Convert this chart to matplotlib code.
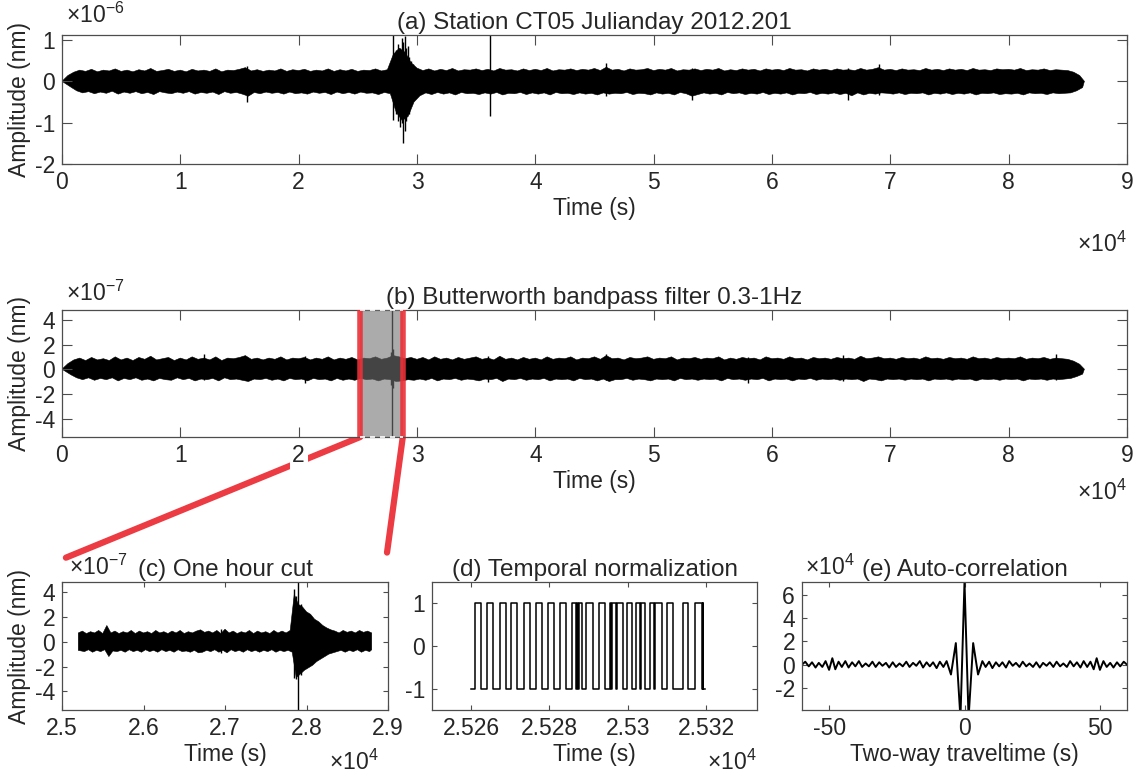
import numpy as np
import matplotlib
matplotlib.use('Agg')
from matplotlib import pyplot as plt
from matplotlib.patches import ConnectionPatch
from matplotlib.ticker import FuncFormatter

plt.rcParams['font.family'] = ['Liberation Sans', 'DejaVu Sans']
plt.rcParams['mathtext.fontset'] = 'custom'
plt.rcParams['mathtext.rm'] = 'Liberation Sans'
plt.rcParams['axes.unicode_minus'] = False

# ---- (a) raw day record, envelope every 500 s, x1e-6 nm
# upper edge sampled on day_t, lower edge on day_t_lo (staggered by 250 s)
day_t = np.append(np.arange(0, 86001, 500), 86400)
day_t_lo = np.concatenate([[0], np.arange(750, 86251, 500), [86400]])
day_up = [0.0, 0.14, 0.22, 0.27, 0.24, 0.29, 0.23, 0.27, 0.25, 0.30,
          0.24, 0.27, 0.23, 0.28, 0.25, 0.31, 0.24, 0.26, 0.29, 0.24,
          0.27, 0.23, 0.29, 0.25, 0.27, 0.24, 0.30, 0.23, 0.27, 0.26,
          0.29, 0.33, 0.25, 0.28, 0.24, 0.27, 0.25, 0.30, 0.24, 0.28,
          0.26, 0.29, 0.24, 0.27, 0.25, 0.30, 0.24, 0.28, 0.25, 0.29,
          0.24, 0.27, 0.26, 0.30, 0.25, 0.28, 0.65, 0.80, 0.70, 0.45,
          0.32, 0.26, 0.30, 0.25, 0.29, 0.26, 0.31, 0.25, 0.28, 0.27,
          0.30, 0.26, 0.29, 0.25, 0.31, 0.27, 0.28, 0.25, 0.30, 0.26,
          0.29, 0.26, 0.31, 0.25, 0.28, 0.27, 0.30, 0.26, 0.29, 0.27,
          0.31, 0.26, 0.34, 0.27, 0.29, 0.25, 0.30, 0.27, 0.28, 0.31,
          0.26, 0.29, 0.27, 0.31, 0.25, 0.28, 0.27, 0.30, 0.26, 0.29,
          0.27, 0.31, 0.25, 0.28, 0.26, 0.30, 0.27, 0.29, 0.25, 0.30,
          0.27, 0.29, 0.26, 0.31, 0.27, 0.28, 0.25, 0.30, 0.27, 0.29,
          0.26, 0.30, 0.27, 0.28, 0.26, 0.31, 0.27, 0.29, 0.33, 0.27,
          0.29, 0.26, 0.30, 0.27, 0.28, 0.26, 0.31, 0.27, 0.29, 0.26,
          0.30, 0.27, 0.29, 0.26, 0.31, 0.27, 0.28, 0.26, 0.30, 0.28,
          0.29, 0.27, 0.31, 0.26, 0.28, 0.27, 0.30, 0.26, 0.28, 0.27,
          0.26, 0.22, 0.14, 0.0]
day_lo = [0.0, -0.14, -0.23, -0.28, -0.25, -0.30, -0.26, -0.29, -0.24, -0.31,
          -0.26, -0.29, -0.25, -0.30, -0.27, -0.32, -0.25, -0.28, -0.30, -0.26,
          -0.29, -0.25, -0.31, -0.27, -0.29, -0.26, -0.32, -0.25, -0.29, -0.27,
          -0.31, -0.36, -0.27, -0.30, -0.26, -0.29, -0.27, -0.31, -0.26, -0.30,
          -0.28, -0.31, -0.26, -0.29, -0.27, -0.32, -0.26, -0.30, -0.27, -0.31,
          -0.26, -0.29, -0.28, -0.32, -0.27, -0.30, -0.75, -0.95, -0.85, -0.50,
          -0.35, -0.28, -0.32, -0.27, -0.31, -0.28, -0.33, -0.27, -0.30, -0.29,
          -0.32, -0.28, -0.31, -0.27, -0.33, -0.29, -0.30, -0.27, -0.32, -0.28,
          -0.31, -0.28, -0.33, -0.27, -0.30, -0.29, -0.32, -0.28, -0.31, -0.29,
          -0.33, -0.28, -0.31, -0.29, -0.30, -0.27, -0.32, -0.29, -0.30, -0.33,
          -0.28, -0.31, -0.29, -0.33, -0.27, -0.30, -0.36, -0.32, -0.28, -0.31,
          -0.29, -0.33, -0.27, -0.30, -0.28, -0.32, -0.29, -0.31, -0.27, -0.32,
          -0.29, -0.31, -0.28, -0.33, -0.29, -0.30, -0.27, -0.32, -0.29, -0.31,
          -0.28, -0.32, -0.29, -0.35, -0.28, -0.33, -0.29, -0.31, -0.28, -0.29,
          -0.31, -0.28, -0.32, -0.29, -0.30, -0.28, -0.33, -0.29, -0.31, -0.28,
          -0.32, -0.29, -0.31, -0.28, -0.33, -0.29, -0.30, -0.28, -0.32, -0.30,
          -0.31, -0.29, -0.33, -0.28, -0.30, -0.29, -0.32, -0.28, -0.30, -0.29,
          -0.28, -0.23, -0.15, 0.0]
day_spk_t = [15600, 27950, 28100, 28250, 28400, 28550, 28700, 28850, 28950,
             29050, 29200, 29350, 29500, 29700, 36200, 46000, 53200, 66400, 69000]
day_spk_hi = [0.36, 1.2, 0.6, 0.75, 0.9, 0.8, 1.05, 0.95, 1.1,
              0.8, 0.85, 0.6, 0.5, 0.42, 1.2, 0.45, 0.33, 0.33, 0.42]
day_spk_lo = [-0.5, -0.93, -0.65, -0.8, -0.95, -1.1, -1.0, -1.5, -1.2,
              -0.95, -0.75, -0.8, -0.55, -0.48, -0.85, -0.36, -0.46, -0.45, -0.32]

# ---- (b) bandpassed record on the same time grids, x1e-7 nm
bp_up = [0.0, 0.45, 0.75, 0.9, 0.7, 0.95, 0.75, 0.85, 0.7, 1.0,
         0.75, 0.9, 0.7, 0.95, 0.8, 1.05, 0.75, 0.85, 0.95, 0.7,
         0.9, 0.75, 1.0, 0.8, 0.9, 0.75, 1.0, 0.7, 0.9, 0.85,
         0.95, 1.1, 0.8, 0.9, 0.75, 0.9, 0.8, 1.0, 0.75, 0.9,
         0.85, 0.95, 0.75, 0.9, 0.8, 1.0, 0.75, 0.9, 0.8, 0.95,
         0.75, 0.9, 0.85, 1.0, 0.8, 0.9, 1.1, 1.0, 0.85, 0.95,
         0.8, 0.95, 0.75, 1.0, 0.8, 0.9, 0.75, 0.95, 0.8, 0.9,
         1.0, 0.8, 0.9, 0.75, 1.05, 0.8, 0.9, 0.75, 0.95, 0.8,
         0.9, 0.75, 1.0, 0.8, 0.9, 0.85, 1.0, 0.75, 0.9, 0.85,
         1.0, 0.8, 1.1, 0.85, 0.9, 0.75, 0.95, 0.85, 0.9, 1.0,
         0.8, 0.9, 0.85, 1.0, 0.75, 0.9, 0.85, 0.95, 0.8, 0.9,
         0.85, 1.0, 0.75, 0.9, 0.8, 0.95, 0.85, 0.9, 0.75, 1.0,
         0.85, 0.9, 0.8, 1.0, 0.85, 0.9, 0.75, 0.95, 0.85, 0.9,
         0.8, 0.95, 0.85, 0.9, 0.8, 1.05, 0.85, 0.9, 1.0, 0.85,
         0.9, 0.8, 0.95, 0.85, 0.9, 0.8, 1.0, 0.85, 0.9, 0.8,
         0.95, 0.85, 0.9, 0.8, 1.0, 0.85, 0.9, 0.8, 0.95, 0.85,
         0.9, 0.85, 1.0, 0.8, 0.9, 0.85, 0.95, 0.8, 0.9, 0.85,
         0.8, 0.65, 0.4, 0.0]
bp_lo = [0.0, -0.45, -0.7, -0.85, -0.7, -0.9, -0.75, -0.85, -0.7, -0.95,
         -0.75, -0.85, -0.7, -0.9, -0.8, -0.95, -0.75, -0.85, -0.9, -0.7,
         -0.85, -0.75, -0.95, -0.8, -0.85, -0.75, -0.95, -0.7, -0.85, -0.8,
         -0.9, -1.0, -0.8, -0.85, -0.75, -0.9, -0.8, -0.95, -0.75, -0.85,
         -0.8, -0.95, -0.75, -0.85, -0.8, -0.95, -0.75, -0.9, -0.8, -0.9,
         -0.75, -0.85, -0.8, -0.95, -0.8, -0.85, -1.0, -0.95, -0.85, -0.9,
         -0.8, -0.9, -0.75, -0.95, -0.8, -0.85, -0.75, -0.9, -0.8, -0.85,
         -0.95, -0.8, -0.85, -0.75, -1.0, -0.8, -0.85, -0.75, -0.9, -0.8,
         -0.85, -0.75, -0.95, -0.8, -0.85, -0.8, -0.95, -0.75, -0.85, -0.8,
         -0.95, -0.8, -1.0, -0.85, -0.85, -0.75, -0.9, -0.8, -0.85, -0.95,
         -0.8, -0.85, -0.8, -0.95, -0.75, -0.85, -0.8, -0.9, -0.8, -0.85,
         -0.8, -0.95, -0.75, -0.85, -0.8, -0.9, -0.8, -0.85, -0.75, -0.95,
         -0.8, -0.85, -0.8, -0.95, -0.8, -0.85, -0.75, -0.9, -0.8, -0.85,
         -0.8, -0.9, -0.8, -0.85, -0.8, -1.0, -0.8, -0.85, -0.95, -0.8,
         -0.85, -0.8, -0.9, -0.8, -0.85, -0.8, -0.95, -0.8, -0.85, -0.8,
         -0.9, -0.8, -0.85, -0.8, -0.95, -0.8, -0.85, -0.8, -0.9, -0.8,
         -0.85, -0.8, -0.95, -0.8, -0.85, -0.8, -0.9, -0.8, -0.85, -0.8,
         -0.75, -0.6, -0.4, 0.0]
bp_spk_t = [12000, 20500, 27800, 27900, 28000, 36000, 46000, 58000, 66000, 84000]
bp_spk_hi = [1.2, 1.1, 1.4, 5.5, 1.6, 1.1, 1.2, 1.0, 1.15, 1.2]
bp_spk_lo = [-0.9, -1.1, -1.3, -6.5, -1.5, -1.0, -0.9, -1.1, -0.95, -0.9]

# ---- (c) one hour window 25200-28800 s, envelope every 50 s, x1e-7 nm
cut_t = np.arange(25200, 28801, 50)
cut_t_lo = np.concatenate([[25200], np.arange(25275, 28776, 50), [28800]])
cut_up = [0.7, 0.85, 0.65, 0.8, 0.7, 0.9, 0.65, 1.3, 0.7, 0.85,
          0.65, 0.8, 0.7, 0.9, 0.65, 0.85, 0.7, 0.8, 0.65, 0.9,
          0.7, 0.8, 0.65, 0.85, 0.7, 0.9, 0.65, 0.8, 0.7, 0.85,
          0.95, 0.75, 0.85, 0.7, 0.9, 0.65, 1.0, 0.7, 0.85, 0.65,
          0.8, 0.7, 0.9, 0.65, 0.85, 0.7, 0.8, 0.65, 0.9, 0.7,
          0.85, 0.7, 0.9, 3.8, 3.0, 2.8, 2.4, 2.2, 1.8, 1.6,
          1.3, 1.1, 0.95, 0.85, 0.7, 0.9, 0.75, 0.85, 0.7, 0.9,
          0.75, 0.85, 0.7]
cut_lo = [-0.7, -0.8, -0.65, -0.85, -0.7, -0.8, -0.65, -1.2, -0.75, -0.8,
          -0.7, -0.85, -0.65, -0.8, -0.7, -0.85, -0.65, -0.8, -0.7, -0.85,
          -0.65, -0.8, -0.7, -0.85, -0.65, -0.8, -0.75, -0.85, -0.7, -0.9,
          -0.85, -0.7, -0.8, -0.65, -0.85, -0.7, -0.9, -0.65, -0.8, -0.7,
          -0.85, -0.65, -0.8, -0.7, -0.85, -0.7, -0.8, -0.65, -0.85, -0.7,
          -0.8, -0.7, -0.85, -2.9, -2.6, -2.3, -2.1, -1.9, -1.6, -1.4,
          -1.2, -1.0, -0.9, -0.8, -0.7, -0.85, -0.7, -0.8, -0.65, -0.85,
          -0.7, -0.8, -0.65]
cut_spk_t = [26950, 27845, 27870, 27900, 27930]
cut_spk_hi = [1.05, 4.25, 3.7, 5.5, 3.0]
cut_spk_lo = [-0.95, -2.9, -3.0, -6.5, -2.7]

# ---- (d) one-bit normalised trace: start/end and the +1 pulses
norm_start, norm_end = 25260.0, 25319.8
pulse_on = [25261.0, 25264.1, 25267.3, 25270.2, 25273.5, 25276.5, 25279.6,
            25282.6, 25285.8, 25287.1, 25287.6, 25289.4, 25292.7, 25295.4,
            25296.0, 25297.3, 25299.7, 25302.2, 25303.3, 25305.6, 25306.9,
            25310.0, 25314.2, 25317.2, 25319.1]
pulse_off = [25262.6, 25265.7, 25268.8, 25271.8, 25275.1, 25278.2, 25281.1,
             25284.2, 25286.9, 25287.4, 25288.2, 25291.2, 25294.1, 25295.8,
             25297.0, 25298.7, 25301.0, 25303.1, 25304.3, 25306.7, 25308.8,
             25311.6, 25315.5, 25318.9, 25319.3]

# ---- (e) auto-correlation (x1e4), extrema for positive lags (symmetric)
ac_lag = [0, 1.5, 3.2, 5.0, 6.6, 7.8, 9.1, 10.3, 11.6, 12.8, 14.0, 15.3,
          16.5, 17.8, 19.0, 20.3, 21.5, 22.8, 24.0, 25.3, 26.5, 27.8, 29.0,
          30.3, 31.5, 32.8, 34.0, 35.3, 36.5, 37.8, 39.0, 40.3, 41.5, 42.8,
          44.0, 45.3, 46.5, 47.7, 48.8, 50.0, 51.3, 52.5, 53.8, 55.0, 56.3,
          57.5, 58.8, 60.0]
ac_val = [7.1, -4.6, 1.85, -0.85, 0.3, -0.2, 0.25, -0.3, 0.2, -0.15, 0.2, -0.25,
          0.3, -0.1, 0.15, -0.2, 0.25, -0.15, 0.1, -0.2, 0.2, -0.25, 0.15,
          -0.1, 0.2, -0.2, 0.25, -0.15, 0.1, -0.2, 0.3, -0.15, 0.2, -0.25,
          0.3, -0.2, 0.25, -0.4, 0.55, -0.45, 0.3, -0.2, 0.15, -0.25, 0.2,
          -0.15, 0.25, 0.0]

W, H = 1135, 775
fig = plt.figure(figsize=(W / 100, H / 100), dpi=100)

def rect(l, t, r, b):
    return [l / W, 1 - b / H, (r - l) / W, (b - t) / H]

ax_a = fig.add_axes(rect(62, 35, 1127, 164))
ax_b = fig.add_axes(rect(62, 310, 1127, 437))
ax_c = fig.add_axes(rect(62, 582, 388, 710))
ax_d = fig.add_axes(rect(432, 582, 757, 710))
ax_e = fig.add_axes(rect(802, 582, 1127, 710))

txt = '0.15'
red = (0.92, 0.19, 0.22)
FS = 16.5
e4 = FuncFormatter(lambda v, p: f'{v / 1e4:g}')

def style(ax, ticklen):
    ax.tick_params(direction='in', top=True, right=True, length=ticklen, width=0.8,
                   color='0.3', labelsize=FS, labelcolor=txt, pad=5)
    for s in ax.spines.values():
        s.set_color('0.3')
        s.set_linewidth(0.9)

def labels(ax, title, xlab, ylab=None):
    ax.set_title(title, fontsize=17.5, color=txt, pad=4)
    ax.set_xlabel(xlab, fontsize=FS, color=txt, labelpad=2)
    if ylab:
        ax.set_ylabel(ylab, fontsize=FS, color=txt, labelpad=3)

def exp_label(ax, x, y, s, ha='left', va='center'):
    ax.text(x, y, s, transform=ax.transAxes, ha=ha, va=va, fontsize=FS, color=txt)

def trace(ax, t_up, up, t_lo, lo, spk_t, spk_hi, spk_lo):
    # waveform drawn as its amplitude envelope plus the single large swings
    ax.fill(np.r_[t_up, t_lo[::-1]], np.r_[up, lo[::-1]], color='k', lw=0.4)
    ax.vlines(spk_t, spk_lo, spk_hi, color='k', lw=1)

# (a)
trace(ax_a, day_t, day_up, day_t_lo, day_lo, day_spk_t, day_spk_hi, day_spk_lo)
ax_a.set_xlim(0, 90000)
ax_a.set_ylim(-2, 1.12)
ax_a.set_xticks(np.arange(0, 90001, 10000))
ax_a.set_yticks([-2, -1, 0, 1])
ax_a.xaxis.set_major_formatter(e4)
style(ax_a, 7.5)
labels(ax_a, '(a) Station CT05 Julianday 2012.201', 'Time (s)', 'Amplitude (nm)')
exp_label(ax_a, 0.004, 1.155, r'$\times10^{-6}$')
exp_label(ax_a, 1.0, -0.62, r'$\times10^{4}$', ha='right')

# (b)
trace(ax_b, day_t, bp_up, day_t_lo, bp_lo, bp_spk_t, bp_spk_hi, bp_spk_lo)
ax_b.set_xlim(0, 90000)
ax_b.set_ylim(-5.5, 4.8)
ax_b.set_xticks(np.arange(0, 90001, 10000))
ax_b.set_yticks([-4, -2, 0, 2, 4])
ax_b.xaxis.set_major_formatter(e4)
style(ax_b, 7.5)
ax_b.axvspan(cut_t[0], cut_t[-1], color='0.45', alpha=0.6, lw=0, zorder=3)
for xv in (cut_t[0], cut_t[-1]):
    ax_b.axvline(xv, color=red, lw=4, alpha=0.9, zorder=4)
ax_b.hlines([4.8, -5.5], cut_t[0], cut_t[-1], colors='white', lw=1.2,
            linestyles=(0, (3, 3)), zorder=5, clip_on=False)
labels(ax_b, '(b) Butterworth bandpass filter 0.3-1Hz', 'Time (s)', 'Amplitude (nm)')
exp_label(ax_b, 0.004, 1.134, r'$\times10^{-7}$')
exp_label(ax_b, 1.0, -0.433, r'$\times10^{4}$', ha='right')
ax_b.xaxis.get_major_ticks()[2].label1.set_bbox(dict(fc='white', ec='none', pad=2))

# (c)
trace(ax_c, cut_t, cut_up, cut_t_lo, cut_lo, cut_spk_t, cut_spk_hi, cut_spk_lo)
ax_c.set_xlim(25000, 29000)
ax_c.set_ylim(-5.5, 4.8)
ax_c.set_xticks(np.arange(25000, 29001, 1000))
ax_c.set_yticks([-4, -2, 0, 2, 4])
ax_c.xaxis.set_major_formatter(e4)
style(ax_c, 3.5)
labels(ax_c, '(c) One hour cut', 'Time (s)', 'Amplitude (nm)')
exp_label(ax_c, 0.02, 1.117, r'$\times10^{-7}$')
exp_label(ax_c, 0.97, -0.47, r'$\times10^{4}$', ha='right', va='baseline')

# (d)
sx, sy = [norm_start], [-1]
for on, off in zip(pulse_on, pulse_off):
    sx += [on, on, off, off]
    sy += [-1, 1, 1, -1]
sx.append(norm_end)
sy.append(-1)
ax_d.plot(sx, sy, color='k', lw=1.1)
ax_d.set_xlim(25250, 25333)
ax_d.set_ylim(-1.5, 1.5)
ax_d.set_xticks([25260, 25280, 25300, 25320])
ax_d.set_yticks([-1, 0, 1])
ax_d.xaxis.set_major_formatter(e4)
style(ax_d, 3.5)
labels(ax_d, '(d) Temporal normalization', 'Time (s)')
exp_label(ax_d, 1.0, -0.47, r'$\times10^{4}$', ha='right', va='baseline')

# (e)
lag = np.concatenate([-np.array(ac_lag[::-1]), ac_lag[1:]])
val = np.concatenate([ac_val[::-1], ac_val[1:]])
ax_e.plot(lag, val, color='k', lw=1.4)
ax_e.set_xlim(-60, 60)
ax_e.set_ylim(-3.9, 7.1)
ax_e.set_xticks([-50, 0, 50])
ax_e.set_yticks([-2, 0, 2, 4, 6])
style(ax_e, 3.5)
labels(ax_e, '(e) Auto-correlation', 'Two-way traveltime (s)')
exp_label(ax_e, 0.01, 1.117, r'$\times10^{4}$')

# zoom connectors from the bandpass panel down to the one-hour cut
for xa, xb, yb in ((cut_t[0], 0.012, 1.19), (cut_t[-1], 0.997, 1.23)):
    cp = ConnectionPatch(xyA=(xa, -5.5), coordsA=ax_b.transData,
                         xyB=(xb, yb), coordsB=ax_c.transAxes,
                         color=red, lw=4.5, alpha=0.95, zorder=-1)
    fig.add_artist(cp)

fig.savefig('out.png', dpi=100)
